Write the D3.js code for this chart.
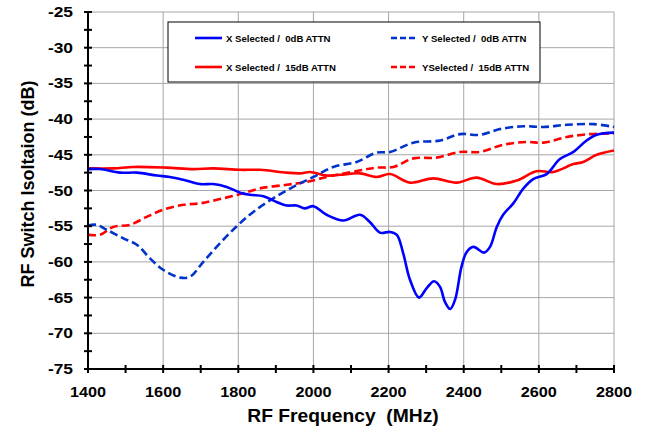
<!DOCTYPE html>
<html lang="en">
<head>
<meta charset="utf-8">
<title>RF Switch Isolation</title>
<script src="https://d3js.org/d3.v7.min.js"></script>
<style>
  body { margin: 0; background: #fff; }
  svg text { font-family: "Liberation Sans", Arial, sans-serif; font-weight: bold; }
  .grid line { stroke: #a6a6a6; stroke-width: 1px; }
  .series { fill: none; stroke-width: 2.6px; }
</style>
</head>
<body>
<div id="chart"></div>
<script>
// --- data ---
const xTicks = [1400, 1600, 1800, 2000, 2200, 2400, 2600, 2800];
const yTicks = [-25, -30, -35, -40, -45, -50, -55, -60, -65, -70, -75];

const freqXSel0 = [1400, 1432, 1485, 1530, 1583, 1618, 1654, 1698, 1733, 1769, 1805, 1831, 1867, 1902, 1929, 1955, 1977, 2000, 2035, 2080, 2124, 2150, 2177, 2204, 2222, 2239, 2257, 2281, 2301, 2321, 2337, 2350, 2364, 2377, 2394, 2408, 2426, 2454, 2470, 2488, 2505, 2532, 2559, 2585, 2621, 2656, 2692, 2727, 2754, 2800];
const isoXSel0  = [-47.0, -47.0, -47.5, -47.5, -47.9, -48.1, -48.5, -49.1, -49.1, -49.5, -50.3, -50.6, -50.8, -51.6, -52.1, -52.1, -52.5, -52.2, -53.4, -54.2, -53.4, -54.4, -55.9, -55.8, -56.2, -58.8, -62.5, -65.0, -63.7, -62.7, -63.5, -65.6, -66.6, -65.3, -60.7, -58.6, -57.9, -58.7, -57.9, -55.1, -53.4, -51.8, -49.7, -48.4, -47.7, -45.6, -44.6, -43.0, -42.2, -41.9];

const freqYSel0 = [1400, 1423, 1450, 1494, 1530, 1565, 1600, 1645, 1671, 1707, 1751, 1796, 1840, 1893, 1946, 2000, 2053, 2115, 2168, 2204, 2266, 2337, 2390, 2443, 2497, 2559, 2612, 2674, 2745, 2800];
const isoYSel0  = [-54.9, -54.8, -55.5, -56.7, -57.6, -59.5, -61.1, -62.2, -62.1, -60.0, -57.4, -55.0, -53.0, -51.1, -49.5, -48.1, -46.7, -46.0, -44.7, -44.6, -43.3, -43.0, -42.1, -42.2, -41.4, -41.0, -41.1, -40.8, -40.7, -41.1];

const freqXSel15 = [1400, 1467, 1521, 1609, 1680, 1733, 1805, 1858, 1929, 1964, 1991, 2035, 2071, 2124, 2168, 2204, 2257, 2319, 2381, 2434, 2488, 2541, 2594, 2638, 2692, 2718, 2754, 2800];
const isoXSel15  = [-46.9, -46.9, -46.7, -46.8, -47.0, -46.9, -47.1, -47.1, -47.5, -47.6, -47.4, -47.9, -47.8, -47.6, -48.1, -47.7, -48.9, -48.3, -48.9, -48.2, -49.1, -48.6, -47.3, -47.4, -46.3, -46.0, -45.0, -44.4];

const freqYSel15 = [1400, 1432, 1467, 1512, 1556, 1600, 1654, 1698, 1751, 1805, 1858, 1929, 1982, 2035, 2071, 2133, 2168, 2213, 2266, 2328, 2390, 2443, 2505, 2568, 2612, 2674, 2736, 2800];
const isoYSel15  = [-56.2, -56.2, -55.1, -54.8, -53.7, -52.7, -52.0, -51.8, -51.2, -50.5, -49.7, -49.2, -48.8, -48.1, -47.7, -47.1, -46.8, -46.7, -45.5, -45.4, -44.6, -44.6, -43.6, -43.2, -43.3, -42.5, -42.1, -42.0];

const seriesNames = ["X Selected /  0dB ATTN", "Y Selected /  0dB ATTN", "X Selected /  15dB ATTN", "YSelected /  15dB ATTN"];

// --- layout ---
const width = 648, height = 432;
const plot = { left: 88, right: 614, top: 12, bottom: 369 };

const svg = d3.select("#chart").append("svg")
  .attr("width", width)
  .attr("height", height);

const x = d3.scaleLinear().domain([1400, 2800]).range([plot.left, plot.right]);
const y = d3.scaleLinear().domain([-75, -25]).range([plot.bottom, plot.top]);

// gridlines
const grid = svg.append("g").attr("class", "grid");
grid.selectAll("line.v")
  .data(xTicks.slice(1))
  .enter().append("line")
  .attr("x1", d => x(d)).attr("x2", d => x(d))
  .attr("y1", plot.top).attr("y2", plot.bottom);
grid.selectAll("line.h")
  .data(yTicks.slice(0, -1))
  .enter().append("line")
  .attr("x1", plot.left).attr("x2", plot.right)
  .attr("y1", d => y(d)).attr("y2", d => y(d));

// series
const series = [
  { name: seriesNames[0], f: freqXSel0, v: isoXSel0, color: "#0000ff", dash: null },
  { name: seriesNames[1], f: freqYSel0, v: isoYSel0, color: "#0033cc", dash: "8,4" },
  { name: seriesNames[2], f: freqXSel15, v: isoXSel15, color: "#ff0000", dash: null },
  { name: seriesNames[3], f: freqYSel15, v: isoYSel15, color: "#ff0000", dash: "8,4" }
];

const line = d3.line()
  .x(d => x(d[0]))
  .y(d => y(d[1]))
  .curve(d3.curveCatmullRom.alpha(0.5));

// draw in the order that puts solid X 0dB on top
[3, 2, 1, 0].forEach(i => {
  const s = series[i];
  svg.append("path")
    .datum(s.f.map((f, j) => [f, s.v[j]]))
    .attr("class", "series")
    .attr("stroke", s.color)
    .attr("stroke-dasharray", s.dash)
    .attr("d", line);
});

// axes (ticks cross the axis line)
const axisG = svg.append("g");
axisG.append("line")
  .attr("x1", plot.left).attr("x2", plot.left)
  .attr("y1", plot.top).attr("y2", plot.bottom)
  .attr("stroke", "#000").attr("stroke-width", 2);
axisG.append("line")
  .attr("x1", plot.left).attr("x2", plot.right)
  .attr("y1", plot.bottom).attr("y2", plot.bottom)
  .attr("stroke", "#000").attr("stroke-width", 2);

const yMinor = d3.range(-75, -24.9, 2.5);
axisG.selectAll("line.yt")
  .data(yMinor)
  .enter().append("line")
  .attr("x1", plot.left - 4).attr("x2", plot.left + 4)
  .attr("y1", d => y(d)).attr("y2", d => y(d))
  .attr("stroke", "#000").attr("stroke-width", 2);
const xMinor = d3.range(1400, 2801, 100);
axisG.selectAll("line.xt")
  .data(xMinor)
  .enter().append("line")
  .attr("x1", d => x(d)).attr("x2", d => x(d))
  .attr("y1", plot.bottom - 4).attr("y2", plot.bottom + 4)
  .attr("stroke", "#000").attr("stroke-width", 2);

// tick labels
svg.selectAll("text.ylab")
  .data(yTicks)
  .enter().append("text")
  .attr("text-anchor", "end")
  .attr("font-size", 14.5)
  .attr("transform", d => `translate(73,${y(d) + 5}) scale(1.2,1)`)
  .text(d => d);
svg.selectAll("text.xlab")
  .data(xTicks)
  .enter().append("text")
  .attr("text-anchor", "middle")
  .attr("font-size", 14.5)
  .attr("transform", d => `translate(${x(d)},${plot.bottom + 28}) scale(1.12,1)`)
  .text(d => d);

// axis titles
svg.append("text")
  .attr("text-anchor", "middle")
  .attr("font-size", 18)
  .attr("transform", "translate(343,422) scale(1.07,1)")
  .style("white-space", "pre")
  .text("RF Frequency  (MHz)");
svg.append("text")
  .attr("text-anchor", "middle")
  .attr("font-size", 18)
  .attr("transform", "translate(34,184) rotate(-90)")
  .text("RF Switch Isoltaion (dB)");

// legend
const legend = svg.append("g");
legend.append("rect")
  .attr("x", 168).attr("y", 22)
  .attr("width", 372).attr("height", 60)
  .attr("fill", "#fff").attr("stroke", "#000").attr("stroke-width", 1);

const legendPos = [[195, 38], [391, 38], [195, 67], [391, 67]];
series.forEach((s, i) => {
  const [lx, ly] = legendPos[i];
  legend.append("line")
    .attr("x1", lx).attr("x2", lx + 27)
    .attr("y1", ly).attr("y2", ly)
    .attr("stroke", s.color).attr("stroke-width", 2.6)
    .attr("stroke-dasharray", s.dash ? "6,3" : null);
  legend.append("text")
    .attr("x", lx + 31).attr("y", ly + 3.5)
    .attr("font-size", 9.6)
    .style("white-space", "pre")
    .text(s.name);
});
</script>
</body>
</html>
